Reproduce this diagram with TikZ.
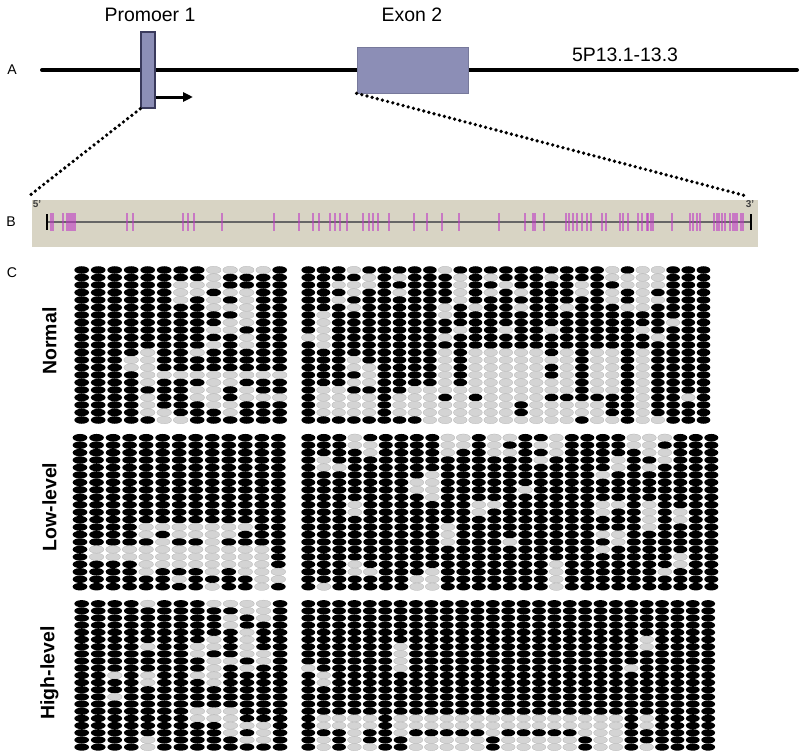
\documentclass[tikz,border=0pt]{standalone}
\usepackage{fontspec}
\setmainfont{Liberation Sans}
\usetikzlibrary{arrows.meta}
\definecolor{boxblue}{RGB}{140,142,182}
\definecolor{boxedge}{RGB}{58,58,92}
\definecolor{bandgrey}{RGB}{216,212,196}
\definecolor{cpgpink}{RGB}{190,60,196}
\tikzset{
  meth/.style={fill=black},
  unmeth/.style={fill=black!17, draw=black!32, line width=0.2pt},
  head/.style={font=\fontsize{16.6}{19}\selectfont},
  panel/.style={font=\fontsize{12}{14}\selectfont},
  group/.style={font=\fontsize{16.6}{19}\selectfont\bfseries, rotate=90},
  zoomline/.style={line width=0.11cm, dash pattern=on 0pt off 0.16cm, line cap=round},
  cpgtick/.style={draw=cpgpink, line width=0.05cm, opacity=0.6},
  primeend/.style={font=\fontsize{8.5}{9}\selectfont\bfseries, text=black!75},
}
% one row of CpG sites: #1 first x, #2 pitch, #3 y, #4 sites (1 = methylated)
\makeatletter
\def\cpgrow#1#2#3#4{\def\cpg@x{#1}\def\cpg@dx{#2}\pgfmathsetmacro\cpg@y{#3}\edef\cpg@sites{#4}\expandafter\cpg@site\cpg@sites\@nil}
\def\cpg@site#1#2\@nil{\if1#1\fill[meth] (\cpg@x,\cpg@y) ellipse [];\else\filldraw[unmeth] (\cpg@x,\cpg@y) ellipse [];\fi
  \pgfmathsetmacro\cpg@x{\cpg@x+\cpg@dx}\ifx\relax#2\relax\else\cpg@site#2\@nil\fi}
\makeatother

\begin{document}
\begin{tikzpicture}[x=0.03cm, y=-0.03cm]
		%%%%% START %%%%%
		\useasboundingbox (0,0) rectangle (800,756);
		
		% A: gene
		\coordinate (pter) at (42,70);
		\coordinate (qter) at (797,70);
		\draw[line width=0.12cm, line cap=round] (pter) -- (qter);
		\node[draw=boxedge, line width=0.45mm, fill=boxblue, minimum width=0.42cm, minimum height=2.28cm, inner sep=0] (prom) at (148,70) {};
		\node[draw=boxblue!85!black, line width=0.2mm, fill=boxblue, minimum width=3.33cm, minimum height=1.38cm, inner sep=0] (exon) at (412.5,70) {};
		\coordinate (tss) at (193,97);
		\draw[line width=0.09cm, -{Triangle[length=0.3cm, width=0.27cm]}] (prom.east |- tss) -- (tss);
		
		\node[head] (promlabel) at (150,15) {Promoer 1};
		\node[head] (exonlabel) at (412,15) {Exon 2};
		\node[head] (locus) at (625,55) {5P13.1-13.3};
		\node[panel] (panelA) at (12,70) {A};
		
		% B: CpG island
		\node[fill=bandgrey, minimum width=21.78cm, minimum height=1.41cm, inner sep=0] (island) at (395,223.5) {};
		\draw[zoomline] (prom.south west) -- ([xshift=-0.1cm, yshift=0.1cm]island.north west);
		\draw[zoomline] (exon.south west) -- ([xshift=-0.3cm, yshift=0.1cm]island.north east);
		\node[primeend] (five) at (37,204) {5'};
		\node[primeend] (three) at (750,204) {3'};
		\draw[line width=0.06cm, color=black!60] (47,222) -- (751,222);
		\foreach \t in {51,53,63,67,69,71,73,75,127,133,183,188,194,222,274,299,313,319,330,335,340,347,363,369,373,378,389,
			414,427,442,459,499,525,533,535,544,566,569,573,577,582,587,591,602,606,620,623,628,638,642,647,648,651,653,672,
			690,693,697,700,714,717,719,722,725,730,733,735,737,741,743}
			\draw[cpgtick] (\t,213) -- (\t,231);
		\draw[line width=0.07cm] (47,214) -- (47,230);
		\draw[line width=0.07cm] (751,214) -- (751,230);
		\node[panel] (panelB) at (11,222) {B};
		
		% C: bisulfite sequencing
		\node[panel] (panelC) at (12,273) {C};
		\node[group] (normal) at (49.5,341) {Normal};
		\node[group] (lowlevel) at (49.5,507) {Low-level};
		\node[group] (highlevel) at (49.5,673) {High-level};
		
		% normal
		\begin{scope}[x radius=0.22cm, y radius=0.113cm]
		\foreach \sites [count=\r] in {1111111100001,1111111101111,1111110001111,1111110010011,1111110101011,1111111100011,1111111111011,
			1111111110011,1111111100111,1111111111011,1111111101011,1111011011111,1110011111111,1110011111111,1111000000000,
			1111011100111,1111111001011,1111011001000,1111011100111,1111001110111,1111100111111}
			{\cpgrow{81.7}{16.5}{270+(\r-1)*7.5}{\sites}}
		\end{scope}
		\begin{scope}[x radius=0.205cm, y radius=0.113cm]
		\foreach \sites [count=\r] in {111011111011111111110100111,111101011101011101110000111,110001111101101111011000111,
			111011011101010111010101111,110111111101111111110100111,111011111010110110111001111,101111111011111111111111111,
			101111111111111111111111011,101111111101101101111101111,001111111011111111111110111,101111111111111111111111111,
			111111111010000010100101111,111011111010000000100101111,111001111010000010100101111,111101111010000010100101111,
			111001111010000000100101111,100111100000000000100101111,100001000101000011111101101,100001000000001000001101111,
			100001000000001000001101111,111111110000000000100100111}
			{\cpgrow{308.3}{15.2}{270+(\r-1)*7.5}{\sites}}
		\end{scope}
		
		% low-level
		\begin{scope}[x radius=0.22cm, y radius=0.112cm]
		\foreach \sites [count=\r] in {1111111111111,1111111111111,1111111111111,1111111111111,1111111111111,1111111111111,
			1111111111111,1111111111111,1111111111111,1111111111111,1111111111111,1111111111111,1111000000011,1111010000111,
			1111101101111,1000000000001,1000000000001,1111000000001,1111011101000,1111110111100,1111111101101}
			{\cpgrow{80}{16.53}{437.7+(\r-1)*7.45}{\sites}}
		\end{scope}
		\begin{scope}[x radius=0.21cm, y radius=0.112cm]
		\foreach \sites [count=\r] in {111011111001001101111000111,111001111001011001111001111,111101111011001101111100111,
			101111111111111011110110111,100111111111111111110101111,111111110111111111101111111,111111100111111111111111111,
			111111100111110111111111111,111111110111111111111111111,111011111110011111100101111,111011111110111111101101011,
			111111111111111111111101011,111111111011111111111101111,111111111011111111100111111,111111111011101111110111111,
			111111111111111111101111111,111111111111111111111111011,111011111111111101111111011,111001110111111101111110111,
			111111100111111101111111111,101111100111111101111111111}
			{\cpgrow{308.3}{15.5}{437.7+(\r-1)*7.45}{\sites}}
		\end{scope}
		
		% high-level
		\begin{scope}[x radius=0.22cm, y radius=0.108cm]
		\foreach \sites [count=\r] in {1111011100001,1111111111001,1111111110101,1111111110111,1111111111011,1111111101011,
			1111011001011,1111111011001,1111111100101,1111111101011,1101011001111,1111011101111,1111111111111,1101111111111,
			1111111111111,1111111000111,1111111000111,1111111110001,1111111110101,1111011111001,1111011111111}
			{\cpgrow{81.7}{16.53}{603.7+(\r-1)*7.17}{\sites}}
		\end{scope}
		\begin{scope}[x radius=0.207cm, y radius=0.108cm]
		\foreach \sites [count=\r] in {111111111111111111111111111,111111111111111111111111111,111111111111111111111111111,
			111111111111111111111111111,111111111111111111111111111,111111111111111111111101111,111111011111111111111101111,
			111111011111111111111111111,111111011111111111111111111,011111011111111111111011111,101111111111111111111111111,
			101111111111111111111111111,111111111111111111111111111,111111111111111111111111111,111111111111111111111111111,
			111111111111111111111111111,100001000000000000000101111,100001000000000000000101111,111011011111011111000111111,
			101011100000100000100111111,101001100000100000100101111}
			{\cpgrow{308.3}{15.38}{603.7+(\r-1)*7.17}{\sites}}
		\end{scope}
		%%%%% END %%%%%
\end{tikzpicture}
\end{document}
